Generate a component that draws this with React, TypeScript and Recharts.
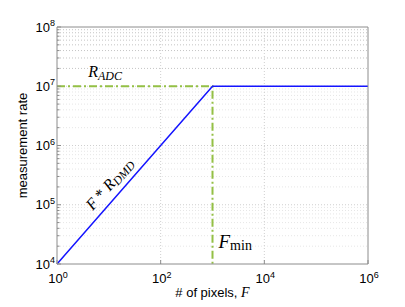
import React from "react";
import { LineChart, Line, XAxis, YAxis, ReferenceLine, ReferenceDot } from "recharts";

// blue: measurement rate vs number of pixels
const pixels = [1, 1e3, 1e6];
const rate = [1e4, 1e7, 1e7];

// green dash-dot: R_ADC level and F_min marker
const adcPixels = [1, 1e3, 1e3];
const adcRate = [1e7, 1e7, 1e4];

const xTicks = [1, 1e2, 1e4, 1e6];
const yTicks = [1e4, 1e5, 1e6, 1e7, 1e8];
const minorSteps = [2, 3, 4, 5, 6, 7, 8, 9];

const yMinor = yTicks.slice(0, -1).flatMap((d) => minorSteps.map((m) => d * m));
const yAllTicks = [...yTicks, ...yMinor].sort((a, b) => a - b);

const rateData = pixels.map((x, i) => ({ x, y: rate[i] }));
const adcData = adcPixels.map((x, i) => ({ x, y: adcRate[i] }));

const AXIS = "#8c8c8c";
const BLUE = "#1414ff";
const GREEN = "#94c045";
const SANS = "'Liberation Sans', Arial, sans-serif";
const SERIF = "'Liberation Serif', 'DejaVu Serif', serif";

const exp = (v: number) => Math.round(Math.log10(v));
const isMajor = (v: number) => yTicks.includes(v);

const LeftTick = (props: any) => {
  const { x, y, payload } = props;
  const v = payload.value;
  const len = isMajor(v) ? 4 : 2.5;
  return (
    <g>
      <line x1={x} x2={x + len} y1={y} y2={y} stroke={AXIS} />
      {isMajor(v) && (
        <text x={x - 2} y={y + 4.5} textAnchor="end" fontFamily={SANS} fontSize={13} fill="#000">
          10
          <tspan dy={-5.5} fontSize={9}>
            {exp(v)}
          </tspan>
        </text>
      )}
    </g>
  );
};

const RightTick = (props: any) => {
  const { x, y, payload } = props;
  const len = isMajor(payload.value) ? 4 : 2.5;
  return <line x1={x} x2={x - len} y1={y} y2={y} stroke={AXIS} />;
};

const BottomTick = (props: any) => {
  const { x, y, payload } = props;
  return (
    <g>
      <line x1={x} x2={x} y1={y} y2={y - 4} stroke={AXIS} />
      <text x={x + 1} y={y + 19} textAnchor="middle" fontFamily={SANS} fontSize={13} fill="#000">
        10
        <tspan dy={-5.5} fontSize={9}>
          {exp(payload.value)}
        </tspan>
      </text>
    </g>
  );
};

const TopTick = (props: any) => {
  const { x, y } = props;
  return <line x1={x} x2={x} y1={y} y2={y + 4} stroke={AXIS} />;
};

export default function App() {
  return (
    <div style={{ position: "absolute", left: 0, top: 0, background: "#fff" }}>
      <LineChart width={405} height={307} margin={{ top: 26, right: 36, bottom: 0, left: 0 }}>
        <XAxis
          dataKey="x"
          type="number"
          scale="log"
          domain={[1, 1e6]}
          ticks={xTicks}
          interval={0}
          height={43}
          tickSize={0}
          tickMargin={0}
          tickLine={false}
          axisLine={{ stroke: AXIS }}
          tick={<BottomTick />}
          label={{
            content: (p: any) => {
              const vb = p.viewBox;
              return (
                <text x={vb.x + vb.width / 2} y={vb.y + 33} textAnchor="middle" fontFamily={SANS} fontSize={13} fill="#000">
                  # of pixels,{" "}
                  <tspan fontFamily={SERIF} fontStyle="italic" fontSize={14}>
                    F
                  </tspan>
                </text>
              );
            },
          }}
        />
        <XAxis
          xAxisId="top"
          dataKey="x"
          orientation="top"
          type="number"
          scale="log"
          domain={[1, 1e6]}
          ticks={xTicks}
          interval={0}
          height={1}
          tickSize={0}
          tickMargin={0}
          tickLine={false}
          axisLine={{ stroke: AXIS }}
          tick={<TopTick />}
        />
        <YAxis
          yAxisId="left"
          type="number"
          scale="log"
          domain={[1e4, 1e8]}
          ticks={yAllTicks}
          interval={0}
          width={57}
          tickSize={0}
          tickMargin={0}
          tickLine={false}
          axisLine={{ stroke: AXIS }}
          tick={<LeftTick />}
          label={{
            content: (p: any) => {
              const vb = p.viewBox;
              const cx = vb.x + 27;
              const cy = vb.y + vb.height / 2;
              return (
                <text
                  x={cx}
                  y={cy}
                  transform={`rotate(-90 ${cx} ${cy})`}
                  textAnchor="middle"
                  fontFamily={SANS}
                  fontSize={13}
                  fill="#000"
                >
                  measurement rate
                </text>
              );
            },
          }}
        />
        <YAxis
          yAxisId="right"
          orientation="right"
          type="number"
          scale="log"
          domain={[1e4, 1e8]}
          ticks={yAllTicks}
          interval={0}
          width={1}
          tickSize={0}
          tickMargin={0}
          tickLine={false}
          axisLine={{ stroke: AXIS }}
          tick={<RightTick />}
        />

        {/* grid */}
        {yMinor.map((v) => (
          <ReferenceLine
            key={"m" + v}
            yAxisId="left"
            y={v}
            stroke={v >= 1e7 ? "#c4c4c4" : "#e6e6e6"}
            strokeDasharray="1 2"
          />
        ))}
        {yTicks.slice(1, -1).map((v) => (
          <ReferenceLine key={"y" + v} yAxisId="left" y={v} stroke="#cfcfcf" strokeDasharray="1 2" />
        ))}
        {xTicks.slice(1, -1).map((v) => (
          <ReferenceLine key={"x" + v} yAxisId="left" x={v} stroke="#cfcfcf" strokeDasharray="1 2" />
        ))}

        <Line
          yAxisId="left"
          data={adcData}
          dataKey="y"
          type="linear"
          stroke={GREEN}
          strokeWidth={2}
          strokeDasharray="8 3 2 3"
          dot={false}
          activeDot={false}
          isAnimationActive={false}
        />
        <Line
          yAxisId="left"
          data={rateData}
          dataKey="y"
          type="linear"
          stroke={BLUE}
          strokeWidth={1.5}
          dot={false}
          activeDot={false}
          isAnimationActive={false}
        />

        {/* annotations */}
        <ReferenceDot
          yAxisId="left"
          x={4}
          y={1e7}
          shape={(p: any) => (
            <text x={p.cx} y={p.cy - 9} fontFamily={SERIF} fontStyle="italic" fontSize={16} fill="#000">
              R
              <tspan dy={2.5} fontSize={12}>
                ADC
              </tspan>
            </text>
          )}
        />
        <ReferenceDot
          yAxisId="left"
          x={16}
          y={1.6e5}
          shape={(p: any) => (
            <text
              x={0}
              y={-8}
              transform={`translate(${p.cx} ${p.cy}) rotate(-48.8)`}
              textAnchor="middle"
              fontFamily={SERIF}
              fontSize={16}
              fill="#000"
            >
              <tspan fontStyle="italic">F</tspan> * <tspan fontStyle="italic">R</tspan>
              <tspan dy={2.5} fontSize={12} fontStyle="italic">
                DMD
              </tspan>
            </text>
          )}
        />
        <ReferenceDot
          yAxisId="left"
          x={1e3}
          y={2e4}
          shape={(p: any) => (
            <text x={p.cx + 6} y={p.cy + 2} fontFamily={SERIF} fontSize={19} fill="#000">
              <tspan fontStyle="italic">F</tspan>
              <tspan dy={1.5} fontSize={14}>
                min
              </tspan>
            </text>
          )}
        />
      </LineChart>
    </div>
  );
}
